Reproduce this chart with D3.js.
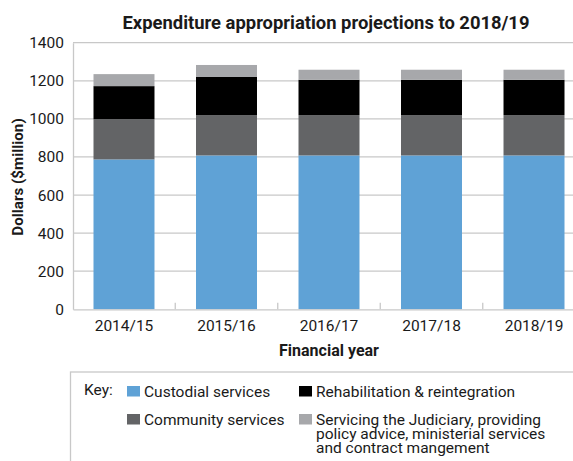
<!DOCTYPE html>
<html>
<head>
<meta charset="utf-8">
<script src="https://cdn.jsdelivr.net/npm/d3@7"></script>
<style>
  html, body { margin: 0; padding: 0; background: #fff; overflow: hidden; }
  svg { display: block; font-family: Roboto, "Noto Sans", sans-serif; }
</style>
</head>
<body>
<svg id="chart" width="573" height="461"></svg>
<script>
// Financial years and expenditure by output ($ million)
const years = ["2014/15", "2015/16", "2016/17", "2017/18", "2018/19"];
const custodial = [787, 808, 808, 808, 808];
const community = [212, 212, 212, 212, 212];
const rehabilitation = [173, 200, 185, 185, 185];
const servicing = [63, 63, 53, 53, 53];
const yTicks = [0, 200, 400, 600, 800, 1000, 1200, 1400];

const seriesKeys = ["custodial", "community", "rehabilitation", "servicing"];
const seriesColors = ["#5fa2d6", "#636466", "#000000", "#a7a8ab"];

const rows = years.map((yr, i) => ({
  year: yr,
  custodial: custodial[i],
  community: community[i],
  rehabilitation: rehabilitation[i],
  servicing: servicing[i]
}));

const svg = d3.select("#chart");
const plotLeft = 73, plotRight = 585, plotTop = 42.7, plotBottom = 309.3;
const ink = "#1a1a1a";

const x = d3.scaleBand().domain(years).range([plotLeft, plotRight])
  .paddingInner(0.405).paddingOuter(0.2);
const y = d3.scaleLinear().domain([0, 1400]).range([plotBottom, plotTop]);
const color = d3.scaleOrdinal().domain(seriesKeys).range(seriesColors);

// Gridlines
svg.append("g")
  .selectAll("line").data(yTicks.filter(d => d > 0)).join("line")
  .attr("x1", plotLeft).attr("x2", plotRight)
  .attr("y1", d => y(d)).attr("y2", d => y(d))
  .attr("stroke", "#c8c8c8").attr("stroke-width", 1.3);

// Stacked bars
const stacked = d3.stack().keys(seriesKeys)(rows);
svg.append("g")
  .selectAll("g").data(stacked).join("g")
  .attr("fill", d => color(d.key))
  .selectAll("rect").data(d => d).join("rect")
  .attr("x", d => x(d.data.year))
  .attr("width", x.bandwidth())
  .attr("y", d => y(d[1]))
  .attr("height", d => y(d[0]) - y(d[1]));

// Y axis
const yAxis = svg.append("g")
  .attr("transform", `translate(${plotLeft},0)`)
  .call(d3.axisLeft(y).tickValues(yTicks).tickFormat(d3.format("d"))
    .tickSize(0).tickPadding(9));
yAxis.select(".domain").attr("stroke", "#c8c8c8").attr("stroke-width", 1.3);
yAxis.selectAll("text").attr("font-size", 15.5).attr("fill", ink)
  .attr("font-family", "Roboto, sans-serif");

// X axis with inside tick marks at band boundaries
const xAxis = svg.append("g")
  .attr("transform", `translate(0,${plotBottom})`)
  .call(d3.axisBottom(x).tickSize(0).tickPadding(11));
xAxis.select(".domain").attr("stroke", "#c8c8c8").attr("stroke-width", 1.3);
xAxis.selectAll("text").attr("font-size", 15.5).attr("fill", ink)
  .attr("font-family", "Roboto, sans-serif");
const step = x.step();
svg.append("g").selectAll("line")
  .data(years.slice(1)).join("line")
  .attr("x1", d => x(d) - x.paddingInner() * step / 2)
  .attr("x2", d => x(d) - x.paddingInner() * step / 2)
  .attr("y1", plotBottom).attr("y2", plotBottom - 6.5)
  .attr("stroke", "#c8c8c8").attr("stroke-width", 1.3);

// Titles
svg.append("text")
  .attr("x", 326).attr("y", 29)
  .attr("text-anchor", "middle")
  .attr("font-size", 18.4).attr("font-weight", "bold").attr("fill", ink)
  .text("Expenditure appropriation projections to 2018/19");

svg.append("text")
  .attr("transform", `translate(23,${(plotTop + plotBottom) / 2 + 1}) rotate(-90)`)
  .attr("text-anchor", "middle")
  .attr("font-size", 15.2).attr("font-weight", "bold").attr("fill", ink)
  .text("Dollars ($million)");

svg.append("text")
  .attr("x", 329).attr("y", 356)
  .attr("text-anchor", "middle")
  .attr("font-size", 16).attr("font-weight", "bold").attr("fill", ink)
  .text("Financial year");

// Legend box
svg.append("rect")
  .attr("x", 70.5).attr("y", 372).attr("width", 520).attr("height", 120)
  .attr("fill", "none").attr("stroke", "#c8c8c8").attr("stroke-width", 1.3);

svg.append("text")
  .attr("x", 84).attr("y", 395)
  .attr("font-size", 15.5).attr("fill", ink)
  .text("Key:");

const legendItems = [
  { key: "custodial", lines: ["Custodial services"], x: 127, y: 386 },
  { key: "rehabilitation", lines: ["Rehabilitation & reintegration"], x: 299, y: 386 },
  { key: "community", lines: ["Community services"], x: 127, y: 414 },
  { key: "servicing", lines: ["Servicing the Judiciary, providing", "policy advice, ministerial services", "and contract mangement"], x: 299, y: 414 }
];

const lg = svg.append("g").selectAll("g").data(legendItems).join("g")
  .attr("transform", d => `translate(${d.x},${d.y})`);
lg.append("rect")
  .attr("width", 13).attr("height", 10.5)
  .attr("fill", d => color(d.key));
lg.append("text")
  .attr("x", 17).attr("y", 10.5)
  .attr("font-size", 15.5).attr("fill", ink)
  .selectAll("tspan").data(d => d.lines).join("tspan")
  .attr("x", 17).attr("dy", (d, i) => i === 0 ? 0 : 14.4)
  .text(d => d);
</script>
</body>
</html>
